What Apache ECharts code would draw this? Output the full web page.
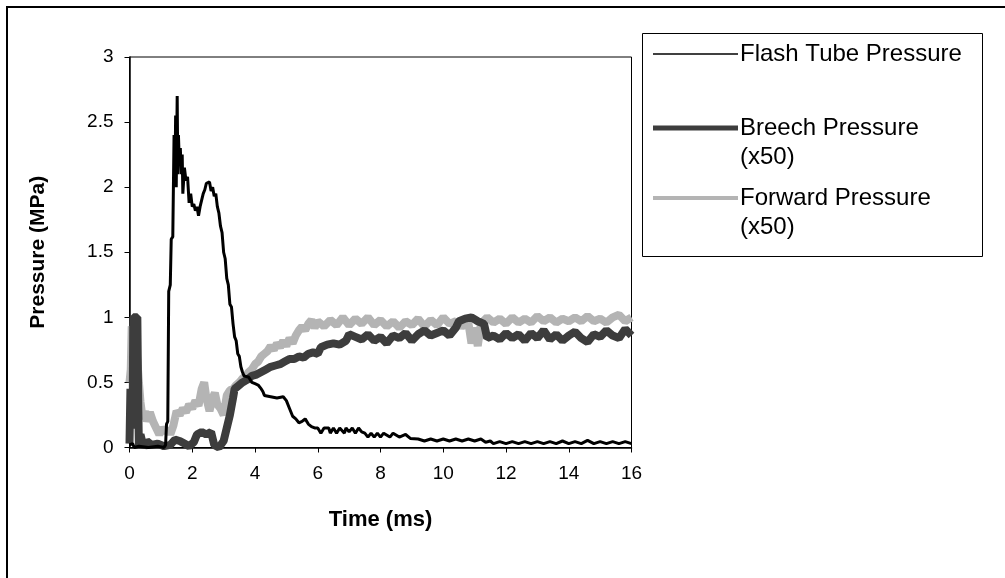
<!DOCTYPE html>
<html>
<head>
<meta charset="utf-8">
<script src="https://cdn.jsdelivr.net/npm/echarts@6/dist/echarts.min.js"></script>
<style>
html,body{margin:0;padding:0;background:#fff;}
#chart{width:1005px;height:578px;}
</style>
</head>
<body>
<div id="chart"></div>
<script>
// ---- Data (time in ms, pressure in MPa) ----
var seriesNames = ['Flash Tube Pressure', 'Breech Pressure\n(x50)', 'Forward Pressure\n(x50)'];
var xTicks = [0, 2, 4, 6, 8, 10, 12, 14, 16];
var yTicks = [0, 0.5, 1, 1.5, 2, 2.5, 3];

var flashTube = [
  [0,0.02],[0.1,0.03],[0.15,0.0],[0.3,0.01],[0.6,0.0],[0.9,0.01],[1.1,0.0],[1.15,0.02],[1.18,0.18],[1.22,0.2],
  [1.25,1.2],[1.3,1.25],[1.33,1.6],[1.38,1.62],[1.42,2.4],[1.45,2.05],[1.47,2.55],[1.49,2.0],[1.52,2.7],[1.54,2.1],
  [1.56,2.4],[1.58,2.25],[1.62,2.3],[1.65,2.1],[1.68,2.25],[1.7,1.95],[1.75,2.15],[1.8,2.05],[1.85,2.08],[1.9,1.88],
  [1.95,1.95],[2.0,1.85],[2.05,1.87],[2.1,1.82],[2.15,1.85],[2.2,1.78],[2.25,1.85],[2.3,1.9],[2.35,1.95],[2.4,1.98],
  [2.45,2.03],[2.5,2.02],[2.55,2.04],[2.6,1.97],[2.65,2.0],[2.7,1.93],[2.75,1.95],[2.8,1.85],[2.85,1.8],[2.9,1.7],
  [2.95,1.65],[3.0,1.5],[3.05,1.45],[3.1,1.3],[3.15,1.25],[3.2,1.1],[3.25,1.08],[3.3,0.95],[3.35,0.85],[3.4,0.82],
  [3.45,0.72],[3.5,0.7],[3.55,0.62],[3.6,0.58],[3.65,0.55],[3.7,0.56],[3.8,0.54],[3.9,0.5],[4.0,0.49],[4.1,0.48],
  [4.2,0.45],[4.25,0.43],[4.3,0.4],[4.5,0.39],[4.7,0.38],[4.9,0.39],[5.0,0.36],[5.1,0.3],[5.2,0.24],[5.3,0.22],
  [5.4,0.19],[5.5,0.2],[5.6,0.22],[5.7,0.18],[5.8,0.16],[5.9,0.15],[6.0,0.15],[6.1,0.11],[6.2,0.15],[6.35,0.15],
  [6.4,0.11],[6.5,0.15],[6.6,0.11],[6.7,0.15],[6.85,0.11],[6.9,0.15],[7.0,0.12],[7.1,0.15],[7.2,0.11],[7.3,0.15],
  [7.4,0.12],[7.5,0.11],[7.6,0.08],[7.7,0.11],[7.8,0.08],[7.9,0.11],[8.0,0.08],[8.1,0.11],[8.3,0.08],[8.4,0.11],
  [8.6,0.08],[8.8,0.1],[8.95,0.07],[9.2,0.065],[9.4,0.05],[9.6,0.065],[9.8,0.05],[10.0,0.065],[10.2,0.05],[10.4,0.065],
  [10.6,0.05],[10.8,0.065],[11.0,0.05],[11.2,0.065],[11.35,0.04],[11.5,0.05],[11.6,0.03],[11.8,0.045],[12.0,0.03],[12.2,0.045],
  [12.4,0.03],[12.6,0.045],[12.8,0.03],[13.0,0.045],[13.2,0.03],[13.4,0.045],[13.6,0.03],[13.8,0.05],[14.0,0.03],[14.2,0.045],
  [14.4,0.03],[14.6,0.055],[14.8,0.03],[15.0,0.045],[15.2,0.03],[15.4,0.045],[15.6,0.03],[15.8,0.045],[16.0,0.03]
];

var breech = [
  [0,0.03],[0.03,0.45],[0.06,0.15],[0.1,0.2],[0.12,1.0],[0.25,1.0],[0.28,0.3],[0.3,0.0],[0.35,0.1],[0.45,0.0],
  [0.55,0.05],[0.7,0.02],[0.9,0.03],[1.1,0.01],[1.3,0.02],[1.45,0.06],[1.6,0.05],[1.75,0.03],[1.9,0.01],[2.05,0.04],
  [2.15,0.1],[2.3,0.12],[2.45,0.1],[2.6,0.12],[2.7,0.02],[2.85,0.0],[3.0,0.05],[3.1,0.15],[3.2,0.25],[3.3,0.38],
  [3.35,0.45],[3.45,0.47],[3.6,0.5],[3.75,0.52],[3.9,0.55],[4.05,0.56],[4.2,0.58],[4.35,0.6],[4.5,0.62],[4.65,0.63],
  [4.8,0.64],[4.95,0.66],[5.1,0.68],[5.25,0.68],[5.4,0.7],[5.55,0.69],[5.7,0.72],[5.85,0.73],[6.0,0.72],[6.1,0.77],
  [6.3,0.79],[6.5,0.8],[6.7,0.79],[6.9,0.82],[7.0,0.87],[7.2,0.85],[7.4,0.83],[7.6,0.87],[7.8,0.82],[8.0,0.85],
  [8.2,0.8],[8.4,0.86],[8.6,0.84],[8.8,0.88],[9.0,0.82],[9.2,0.87],[9.4,0.9],[9.6,0.86],[9.8,0.88],[10.0,0.9],
  [10.2,0.86],[10.4,0.92],[10.5,0.97],[10.7,0.99],[10.9,1.0],[11.1,0.97],[11.3,0.95],[11.4,0.84],[11.6,0.86],[11.8,0.83],
  [12.0,0.88],[12.2,0.84],[12.4,0.87],[12.6,0.82],[12.8,0.88],[13.0,0.84],[13.2,0.9],[13.4,0.83],[13.6,0.87],[13.8,0.82],
  [14.0,0.86],[14.2,0.89],[14.4,0.84],[14.6,0.81],[14.8,0.87],[15.0,0.85],[15.2,0.9],[15.4,0.86],[15.6,0.84],[15.8,0.91],
  [16.0,0.86]
];

var forward = [
  [0,0.5],[0.04,0.6],[0.07,0.93],[0.12,0.9],[0.17,0.93],[0.22,0.78],[0.3,0.5],[0.35,0.35],[0.42,0.22],[0.5,0.28],
  [0.55,0.2],[0.65,0.27],[0.75,0.2],[0.85,0.15],[0.95,0.1],[1.05,0.15],[1.15,0.12],[1.25,0.14],[1.3,0.1],[1.4,0.17],
  [1.5,0.28],[1.6,0.25],[1.7,0.3],[1.8,0.27],[1.9,0.33],[2.0,0.3],[2.1,0.36],[2.2,0.32],[2.3,0.45],[2.38,0.5],
  [2.45,0.38],[2.55,0.28],[2.65,0.38],[2.72,0.42],[2.8,0.33],[2.9,0.3],[3.0,0.25],[3.1,0.4],[3.2,0.44],[3.3,0.45],
  [3.4,0.48],[3.5,0.5],[3.6,0.53],[3.7,0.55],[3.8,0.58],[3.9,0.6],[4.0,0.64],[4.1,0.66],[4.2,0.7],[4.3,0.72],
  [4.4,0.74],[4.5,0.78],[4.6,0.75],[4.7,0.8],[4.8,0.77],[4.9,0.82],[5.0,0.78],[5.1,0.84],[5.2,0.8],[5.3,0.86],
  [5.4,0.9],[5.5,0.93],[5.6,0.9],[5.7,0.95],[5.8,0.98],[5.9,0.92],[6.0,0.97],[6.2,0.93],[6.4,0.98],[6.6,0.94],
  [6.8,1.0],[7.0,0.94],[7.2,0.99],[7.4,0.95],[7.6,1.0],[7.8,0.94],[8.0,0.98],[8.2,0.93],[8.4,0.97],[8.6,0.92],
  [8.8,0.97],[9.0,0.94],[9.2,0.99],[9.4,0.93],[9.6,0.98],[9.8,0.94],[10.0,1.0],[10.2,0.95],[10.4,0.97],[10.6,0.93],
  [10.8,0.96],[10.9,0.8],[11.0,0.92],[11.1,0.78],[11.2,0.95],[11.4,1.0],[11.6,0.96],[11.8,0.99],[12.0,0.95],[12.2,1.0],
  [12.4,0.96],[12.6,0.99],[12.8,0.96],[13.0,1.01],[13.2,0.97],[13.4,1.0],[13.6,0.96],[13.8,0.99],[14.0,0.97],[14.2,1.0],
  [14.4,0.97],[14.6,1.01],[14.8,0.97],[15.0,0.99],[15.2,0.96],[15.4,1.0],[15.6,1.02],[15.8,0.97],[16.0,1.0]
];

// ---- Chart ----
var FONT = '"Liberation Sans", Arial, sans-serif';
var chart = echarts.init(document.getElementById('chart'), null, {renderer: 'canvas'});
var option = {
  animation: false,
  backgroundColor: '#fff',
  textStyle: {fontFamily: FONT},
  grid: {left: 129.5, right: 373.5, top: 57, bottom: 130.5, show: true, borderColor: '#000', borderWidth: 1, backgroundColor: 'transparent'},
  xAxis: {
    type: 'value', min: xTicks[0], max: xTicks[xTicks.length - 1], interval: 2,
    name: 'Time (ms)', nameLocation: 'middle', nameGap: 61,
    nameTextStyle: {fontFamily: FONT, fontWeight: 'bold', fontSize: 22, color: '#000'},
    axisLine: {show: true, lineStyle: {color: '#000', width: 1.5}},
    axisTick: {show: true, inside: false, length: 5, lineStyle: {color: '#000', width: 1}},
    axisLabel: {fontFamily: FONT, fontSize: 19, color: '#000', margin: 17},
    splitLine: {show: false}
  },
  yAxis: {
    type: 'value', min: yTicks[0], max: yTicks[yTicks.length - 1], interval: 0.5,
    name: 'Pressure (MPa)', nameLocation: 'middle', nameGap: 81, nameRotate: 90,
    nameTextStyle: {fontFamily: FONT, fontWeight: 'bold', fontSize: 21, color: '#000'},
    axisLine: {show: true, lineStyle: {color: '#000', width: 1.5}},
    axisTick: {show: true, inside: false, length: 5, lineStyle: {color: '#000', width: 1}},
    axisLabel: {fontFamily: FONT, fontSize: 19, color: '#000', margin: 16},
    splitLine: {show: false}
  },
  series: [
    {name: seriesNames[2], type: 'line', data: forward, symbol: 'none', z: 2,
     lineStyle: {color: '#b4b4b4', width: 8, join: 'bevel'}},
    {name: seriesNames[1], type: 'line', data: breech, symbol: 'none', z: 3,
     lineStyle: {color: '#3d3d3d', width: 8, join: 'bevel'}},
    {name: seriesNames[0], type: 'line', data: flashTube, symbol: 'none', z: 4,
     lineStyle: {color: '#000', width: 3, join: 'bevel'}}
  ],
  graphic: [
    {type: 'rect', silent: true, z: 0, shape: {x: 7, y: 7, width: 1100, height: 700},
     style: {fill: 'none', stroke: '#000', lineWidth: 2}},
    {type: 'group', silent: true, z: 10, children: [
      {type: 'rect', shape: {x: 642.5, y: 33.5, width: 340, height: 223}, style: {fill: '#fff', stroke: '#000', lineWidth: 1}},
      {type: 'line', shape: {x1: 653, y1: 54, x2: 738, y2: 54}, style: {stroke: '#000', lineWidth: 1.5}},
      {type: 'text', x: 740, y: 54, style: {text: 'Flash Tube Pressure', font: '24px ' + FONT, fill: '#000', verticalAlign: 'middle', align: 'left'}},
      {type: 'line', shape: {x1: 653, y1: 128, x2: 738, y2: 128}, style: {stroke: '#3d3d3d', lineWidth: 5}},
      {type: 'text', x: 740, y: 128, style: {text: 'Breech Pressure', font: '24px ' + FONT, fill: '#000', verticalAlign: 'middle', align: 'left'}},
      {type: 'text', x: 740, y: 157, style: {text: '(x50)', font: '24px ' + FONT, fill: '#000', verticalAlign: 'middle', align: 'left'}},
      {type: 'line', shape: {x1: 653, y1: 198, x2: 738, y2: 198}, style: {stroke: '#b4b4b4', lineWidth: 4}},
      {type: 'text', x: 740, y: 198, style: {text: 'Forward Pressure', font: '24px ' + FONT, fill: '#000', verticalAlign: 'middle', align: 'left'}},
      {type: 'text', x: 740, y: 227, style: {text: '(x50)', font: '24px ' + FONT, fill: '#000', verticalAlign: 'middle', align: 'left'}}
    ]}
  ]
};
chart.setOption(option);
</script>
</body>
</html>
